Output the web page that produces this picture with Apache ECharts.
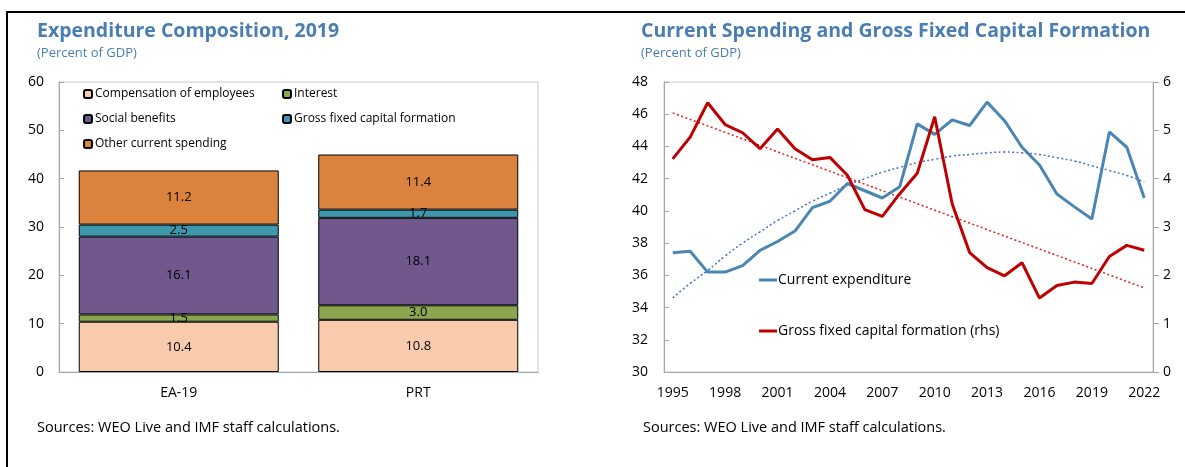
<!DOCTYPE html>
<html>
<head>
<meta charset="utf-8">
<script src="https://cdn.jsdelivr.net/npm/echarts@6/dist/echarts.min.js"></script>
<style>
  html, body { margin: 0; padding: 0; background: #fff; }
  #Charts1 { width: 1185px; height: 467px; }
</style>
</head>
<body>
<div id="Charts1"></div>
<script>
// left panel: expenditure composition 2019
var countries = ['EA-19', 'PRT'];
var compEmployees = [10.4, 10.8];
var interest = [1.5, 3.0];
var socialBenefits = [16.1, 18.1];
var gfcfShare = [2.5, 1.7];
var otherCurrent = [11.2, 11.4];

// right panel: current spending and GFCF
var years = ['1995','1996','1997','1998','1999','2000','2001','2002','2003','2004',
  '2005','2006','2007','2008','2009','2010','2011','2012','2013','2014',
  '2015','2016','2017','2018','2019','2020','2021','2022'];
var currentExp = [37.4, 37.5, 36.2, 36.2, 36.6, 37.55, 38.1, 38.75, 40.2, 40.6,
  41.7, 41.25, 40.8, 41.5, 45.4, 44.75, 45.65, 45.3, 46.75, 45.6,
  43.95, 42.85, 41.05, 40.25, 39.5, 44.9, 43.95, 40.8];
var gfcf = [4.41, 4.86, 5.57, 5.12, 4.95, 4.62, 5.03, 4.62, 4.39, 4.44,
  4.07, 3.36, 3.22, 3.69, 4.11, 5.28, 3.48, 2.47, 2.16, 1.99,
  2.26, 1.53, 1.79, 1.86, 1.83, 2.39, 2.62, 2.52];
// dotted trend lines
var currentTrend = [34.6, 35.5, 36.3, 37.2, 38.0, 38.7, 39.4, 40.0, 40.6, 41.1,
  41.6, 42.0, 42.4, 42.7, 43.0, 43.2, 43.4, 43.5, 43.6, 43.65,
  43.6, 43.5, 43.3, 43.1, 42.8, 42.5, 42.2, 41.8];
var gfcfTrend = [['1995', 5.36], ['2022', 1.74]];

var titleBlue = '#4a7eb3';
var axisGray = '#a6a6a6';
var font = 'Open Sans';

var myChart = echarts.init(document.getElementById('Charts1'));

function barSeries(name, data, color){
  return {
    name: name, type: 'bar', stack: 'total', data: data,
    xAxisIndex: 0, yAxisIndex: 0,
    barWidth: 200,
    itemStyle: { color: color, borderColor: '#000', borderWidth: 1 },
    label: { show: true, position: 'inside', color: '#000', fontSize: 13, fontFamily: font,
      formatter: function(p){ return p.value.toFixed(1); } }
  };
}

var option = {
  animation: false,
  textStyle: { fontFamily: font },
  title: [
    { text: 'Expenditure Composition, 2019', left: 37, top: 21, padding: 0,
      textStyle: { color: titleBlue, fontSize: 19.5, fontWeight: 'bold', fontFamily: font } },
    { text: '(Percent of GDP)', left: 37, top: 47, padding: 0,
      textStyle: { color: titleBlue, fontSize: 13, fontWeight: 'normal', fontFamily: font } },
    { text: 'Current Spending and Gross Fixed Capital Formation', left: 641, top: 21, padding: 0,
      textStyle: { color: titleBlue, fontSize: 19.5, fontWeight: 'bold', fontFamily: font } },
    { text: '(Percent of GDP)', left: 641, top: 47, padding: 0,
      textStyle: { color: titleBlue, fontSize: 13, fontWeight: 'normal', fontFamily: font } },
    { text: 'Sources: WEO Live and IMF staff calculations.', left: 37, top: 420, padding: 0,
      textStyle: { color: '#000', fontSize: 14.5, fontWeight: 'normal', fontFamily: font } },
    { text: 'Sources: WEO Live and IMF staff calculations.', left: 643, top: 420, padding: 0,
      textStyle: { color: '#000', fontSize: 14.5, fontWeight: 'normal', fontFamily: font } }
  ],
  legend: [
    { left: 83, top: 88, padding: 0, orient: 'vertical', itemGap: 13, itemWidth: 8, itemHeight: 8,
      textStyle: { fontSize: 12, color: '#000', fontFamily: font, padding: [0, 0, 0, -2] },
      data: ['Compensation of employees', 'Social benefits', 'Other current spending'] },
    { left: 282, top: 88, padding: 0, orient: 'vertical', itemGap: 13, itemWidth: 8, itemHeight: 8,
      textStyle: { fontSize: 12, color: '#000', fontFamily: font, padding: [0, 0, 0, -2] },
      data: ['Interest', 'Gross fixed capital formation'] },
    { left: 759, top: 273, padding: 0, orient: 'vertical', itemGap: 37, itemWidth: 18, itemHeight: 3,
      icon: 'rect',
      textStyle: { fontSize: 14, color: '#000', fontFamily: font, padding: [0, 0, 0, -4] },
      data: ['Current expenditure', 'Gross fixed capital formation (rhs)'] }
  ],
  grid: [
    { left: 59, top: 82, width: 479, height: 290, show: true, borderColor: '#c8c8c8', borderWidth: 1 },
    { left: 664, top: 82, width: 489, height: 290, show: true, borderColor: '#c8c8c8', borderWidth: 1 }
  ],
  xAxis: [
    { type: 'category', gridIndex: 0, data: countries,
      axisLine: { lineStyle: { color: axisGray } },
      axisTick: { inside: true, length: 5, lineStyle: { color: axisGray } },
      axisLabel: { color: '#000', fontSize: 14, margin: 14 } },
    { type: 'category', gridIndex: 1, data: years, boundaryGap: true,
      axisLine: { lineStyle: { color: axisGray } },
      axisTick: { inside: true, length: 6, interval: 0, lineStyle: { color: axisGray } },
      axisLabel: { color: '#000', fontSize: 14, margin: 14, interval: 2 } }
  ],
  yAxis: [
    { type: 'value', gridIndex: 0, min: 0, max: 60, interval: 10,
      splitLine: { show: false },
      axisLine: { show: true, lineStyle: { color: axisGray } },
      axisTick: { show: true, inside: true, length: 5, lineStyle: { color: axisGray } },
      axisLabel: { color: '#000', fontSize: 14, margin: 15 } },
    { type: 'value', gridIndex: 1, min: 30, max: 48, interval: 2,
      splitLine: { show: false },
      axisLine: { show: true, lineStyle: { color: axisGray } },
      axisTick: { show: true, inside: true, length: 5, lineStyle: { color: axisGray } },
      axisLabel: { color: '#000', fontSize: 14, margin: 16 } },
    { type: 'value', gridIndex: 1, position: 'right', min: 0, max: 6, interval: 1,
      splitLine: { show: false },
      axisLine: { show: true, lineStyle: { color: axisGray } },
      axisTick: { show: true, length: 6, lineStyle: { color: axisGray } },
      axisLabel: { color: '#000', fontSize: 14, margin: 10 } }
  ],
  series: [
    barSeries('Compensation of employees', compEmployees, '#f8cbad'),
    barSeries('Interest', interest, '#8aa64e'),
    barSeries('Social benefits', socialBenefits, '#70588f'),
    barSeries('Gross fixed capital formation', gfcfShare, '#3e97ad'),
    barSeries('Other current spending', otherCurrent, '#d9833f'),
    { name: 'Current expenditure trend', type: 'line', xAxisIndex: 1, yAxisIndex: 1,
      data: currentTrend, showSymbol: false, smooth: true,
      lineStyle: { color: '#4472c4', width: 1.5, type: [2, 2.5] } },
    { name: 'GFCF trend', type: 'line', xAxisIndex: 1, yAxisIndex: 2,
      data: gfcfTrend, showSymbol: false,
      lineStyle: { color: '#e02020', width: 1.5, type: [2, 2.5] } },
    { name: 'Current expenditure', type: 'line', xAxisIndex: 1, yAxisIndex: 1,
      data: currentExp, showSymbol: false,
      itemStyle: { color: '#4a86b4' },
      lineStyle: { color: '#4a86b4', width: 3 } },
    { name: 'Gross fixed capital formation (rhs)', type: 'line', xAxisIndex: 1, yAxisIndex: 2,
      data: gfcf, showSymbol: false,
      itemStyle: { color: '#c00000' },
      lineStyle: { color: '#c00000', width: 3 } }
  ],
  graphic: [
    // outer frame (top and left edges)
    { type: 'line', shape: { x1: 6, y1: 12, x2: 1185, y2: 12 }, style: { stroke: '#000', lineWidth: 2 } },
    { type: 'line', shape: { x1: 7, y1: 12, x2: 7, y2: 467 }, style: { stroke: '#000', lineWidth: 2 } }
  ]
};

myChart.setOption(option);
</script>
</body>
</html>
